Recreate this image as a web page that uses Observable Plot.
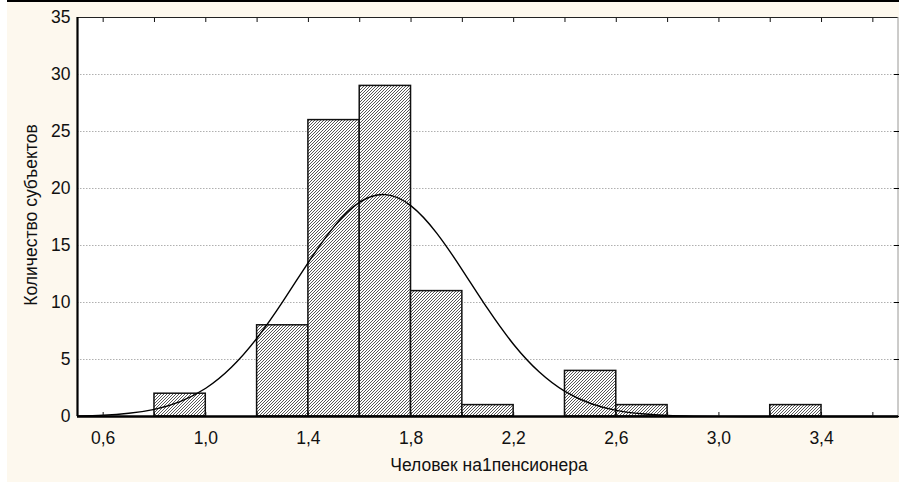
<!DOCTYPE html>
<html>
<head>
<meta charset="utf-8">
<script src="https://cdn.jsdelivr.net/npm/d3@7"></script>
<script src="https://cdn.jsdelivr.net/npm/@observablehq/plot@0.6"></script>
<style>
  html, body { margin: 0; padding: 0; background: #ffffff; }
  #wrap { position: relative; width: 899px; height: 482px; overflow: hidden; }
  #topline { position: absolute; left: 0; top: 0; width: 899px; height: 2px; background: #000; }
  #leftstrip { position: absolute; left: 0; top: 0; width: 7px; height: 482px; background: #fff; }
</style>
</head>
<body>
<div id="wrap"></div>
<script>
// Histogram bins (lower / upper edges) and counts
const binLo  = [0.8, 1.2, 1.4, 1.6, 1.8, 2.0, 2.4, 2.6, 3.2];
const binHi  = [1.0, 1.4, 1.6, 1.8, 2.0, 2.2, 2.6, 2.8, 3.4];
const counts = [2, 8, 26, 29, 11, 1, 4, 1, 1];

// Fitted (expected) curve
const curveX = [0.5, 0.6, 0.7, 0.8, 0.9, 1.0, 1.1, 1.2, 1.3, 1.4, 1.5, 1.6, 1.7, 1.8, 1.9, 2.0, 2.1, 2.2, 2.3, 2.4, 2.5, 2.6, 2.7, 2.8, 2.9, 3.0, 3.1, 3.2, 3.3, 3.4, 3.5, 3.6, 3.7];
const curveY = [0.04, 0.11, 0.28, 0.63, 1.31, 2.48, 4.32, 6.89, 10.08, 13.53, 16.66, 18.8, 19.46, 18.48, 16.09, 12.85, 9.41, 6.32, 3.9, 2.2, 1.14, 0.54, 0.24, 0.09, 0.035, 0.011, 0.003, 0.001, 0, 0, 0, 0, 0];

// Axis ticks
const xTickLabels = [0.6, 1.0, 1.4, 1.8, 2.2, 2.6, 3.0, 3.4];
const xMinorTicks = [0.6, 0.8, 1.0, 1.2, 1.4, 1.6, 1.8, 2.0, 2.2, 2.4, 2.6, 2.8, 3.0, 3.2, 3.4, 3.6];
const yTicks = [0, 5, 10, 15, 20, 25, 30, 35];
const gridY = [5, 10, 15, 20, 25, 30];

const xLabel = "Человек на1пенсионера";
const yLabel = "Количество субъектов";

const bars = binLo.map((lo, i) => ({lo, hi: binHi[i], n: counts[i]}));
const curve = curveX.map((x, i) => ({x, y: curveY[i]}));
const fmt = d => d.toFixed(1).replace(".", ",");

const FS = 17.5;

const chart = Plot.plot({
  width: 899,
  height: 482,
  marginLeft: 77,
  marginRight: 1,
  marginTop: 17,
  marginBottom: 66,
  style: {
    background: "#fdf8ee",
    fontFamily: "'Liberation Sans', Arial, sans-serif",
    fontSize: FS + "px",
    color: "#111"
  },
  x: {domain: [0.5, 3.7]},
  y: {domain: [0, 35]},
  marks: [
    Plot.frame({fill: "white", stroke: null}),
    Plot.ruleY(gridY, {stroke: "#b0b0b0", strokeDasharray: "1.5,1.5", strokeWidth: 1}),
    Plot.rectY(bars, {x1: "lo", x2: "hi", y: "n", fill: "url(#hatch)", stroke: "#111", strokeWidth: 1.5}),
    Plot.line(curve, {x: "x", y: "y", curve: "natural", stroke: "#000", strokeWidth: 1.4}),
    // frame lines
    Plot.ruleY([35], {stroke: "#222", strokeWidth: 1}),
    Plot.ruleX([3.7], {stroke: "#999", strokeWidth: 1, dx: -0.5}),
    Plot.ruleX([0.5], {stroke: "#000", strokeWidth: 2.2}),
    Plot.ruleY([0], {stroke: "#000", strokeWidth: 2.5}),
    // axes
    Plot.axisY({ticks: yTicks, tickSize: 0, tickPadding: 7, label: null, tickFormat: d => String(d), fontSize: FS}),
    Plot.axisY({anchor: "right", ticks: gridY, tickSize: -5, tickFormat: () => "", label: null, stroke: "#000"}),
    Plot.axisX({ticks: xTickLabels, tickSize: 0, tickPadding: 15, tickFormat: fmt, label: null, fontSize: FS}),
    Plot.axisX({ticks: xMinorTicks, tickSize: -4, tickFormat: () => "", label: null}),
    Plot.axisX({anchor: "top", ticks: xMinorTicks, tickSize: -4, tickFormat: () => "", label: null}),
    // axis titles
    Plot.text([yLabel], {frameAnchor: "left", textAnchor: "middle", dx: -46, dy: -2, rotate: -90, fontSize: FS, fill: "#111", text: d => d}),
    Plot.text([xLabel], {frameAnchor: "bottom", dy: 54, dx: 1, fontSize: FS, fill: "#111", text: d => d})
  ]
});

// hatch pattern for bars
const defs = d3.select(chart).insert("defs", ":first-child");
const pat = defs.append("pattern")
  .attr("id", "hatch")
  .attr("patternUnits", "userSpaceOnUse")
  .attr("width", 3)
  .attr("height", 3);
pat.append("rect").attr("width", 3).attr("height", 3).attr("fill", "#ffffff");
pat.append("path")
  .attr("d", "M-1,1 L1,-1 M0,3 L3,0 M2,4 L4,2")
  .attr("stroke", "#444")
  .attr("stroke-width", 0.9);

const wrap = document.getElementById("wrap");
wrap.appendChild(chart);
const tl = document.createElement("div"); tl.id = "topline"; wrap.appendChild(tl);
const ls = document.createElement("div"); ls.id = "leftstrip"; wrap.appendChild(ls);
</script>
</body>
</html>
